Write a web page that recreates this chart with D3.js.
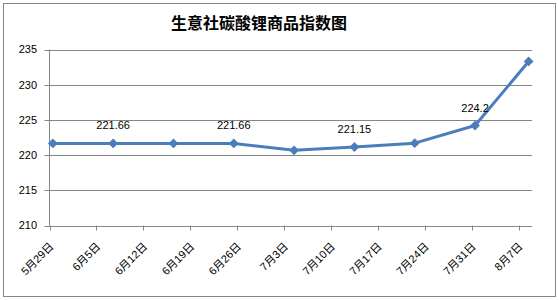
<!DOCTYPE html>
<html>
<head>
<meta charset="utf-8">
<script src="https://cdn.jsdelivr.net/npm/d3@7"></script>
<style>
  body { margin: 0; background: #fff; }
  text { font-family: "Liberation Sans", "Noto Sans CJK SC", sans-serif; }
</style>
</head>
<body>
<div id="chart"></div>
<script>
// data
var pointDates = ["2017-05-29", "2017-06-07", "2017-06-16", "2017-06-25", "2017-07-04",
                  "2017-07-13", "2017-07-22", "2017-07-31", "2017-08-08"];
var pointValues = [221.66, 221.66, 221.66, 221.66, 220.68, 221.15, 221.7, 224.2, 233.3];
var labeledPoints = [1, 3, 5, 7];

var tickDates = ["2017-05-29", "2017-06-05", "2017-06-12", "2017-06-19", "2017-06-26", "2017-07-03",
                 "2017-07-10", "2017-07-17", "2017-07-24", "2017-07-31", "2017-08-07"];
var tickLabels = ["5月29日", "6月5日", "6月12日", "6月19日", "6月26日", "7月3日",
                  "7月10日", "7月17日", "7月24日", "7月31日", "8月7日"];
var yTicks = [210, 215, 220, 225, 230, 235];

var W = 559, H = 300;
var parse = d3.timeParse("%Y-%m-%d");

var svg = d3.select("#chart")
    .append("svg")
    .attr("width", W)
    .attr("height", H);

// outer border
svg.append("rect")
    .attr("x", 3.5).attr("y", 3.5)
    .attr("width", 552).attr("height", 293)
    .attr("fill", "#fff")
    .attr("stroke", "#868686");

// title
svg.append("text")
    .attr("x", 259).attr("y", 29)
    .attr("text-anchor", "middle")
    .style("font-family", "'Noto Sans CJK SC', sans-serif")
    .style("font-size", "16px")
    .style("font-weight", "bold")
    .text("生意社碳酸锂商品指数图");

var plotLeft = 49.5, plotRight = 532, plotTop = 49.5, plotBottom = 225.5;

var x = d3.scaleTime()
    .domain([parse("2017-05-29"), parse("2017-08-09")])
    .range([plotLeft, plotRight]);

var y = d3.scaleLinear()
    .domain([210, 235])
    .range([plotBottom, plotTop]);

// gridlines
svg.append("g")
    .selectAll("line")
    .data(yTicks)
    .enter()
    .append("line")
    .attr("x1", plotLeft - 5).attr("x2", plotRight)
    .attr("y1", function(d) { return Math.round(y(d)) + 0.5; })
    .attr("y2", function(d) { return Math.round(y(d)) + 0.5; })
    .attr("stroke", "#868686");

// y axis line + labels
svg.append("line")
    .attr("x1", plotLeft).attr("x2", plotLeft)
    .attr("y1", plotTop).attr("y2", plotBottom)
    .attr("stroke", "#868686");

svg.append("g")
    .selectAll("text")
    .data(yTicks)
    .enter()
    .append("text")
    .attr("x", 37)
    .attr("y", function(d) { return y(d); })
    .attr("dy", "0.35em")
    .attr("text-anchor", "end")
    .style("font-size", "11px")
    .text(function(d) { return d; });

// x axis ticks
var xt = tickDates.map(parse);
svg.append("g")
    .selectAll("line")
    .data(xt)
    .enter()
    .append("line")
    .attr("x1", function(d) { return Math.round(x(d)) + 0.5; })
    .attr("x2", function(d) { return Math.round(x(d)) + 0.5; })
    .attr("y1", plotBottom).attr("y2", plotBottom + 5)
    .attr("stroke", "#868686");

svg.append("g")
    .selectAll("text")
    .data(xt)
    .enter()
    .append("text")
    .attr("transform", function(d) { return "translate(" + (x(d) + 2) + "," + (plotBottom + 19) + ")rotate(-45)"; })
    .attr("dy", "0.35em")
    .attr("text-anchor", "end")
    .style("font-size", "11px")
    .text(function(d, i) { return tickLabels[i]; });

// series
var pts = pointDates.map(function(d, i) {
    return { x: x(d3.timeHour.offset(parse(d), 12)), y: y(pointValues[i]), v: pointValues[i] };
});

svg.append("path")
    .datum(pts)
    .attr("fill", "none")
    .attr("stroke", "#4a7ebb")
    .attr("stroke-width", 3)
    .attr("stroke-linejoin", "round")
    .attr("d", d3.line().x(function(d) { return d.x; }).y(function(d) { return d.y; }));

svg.append("g")
    .selectAll("path")
    .data(pts)
    .enter()
    .append("path")
    .attr("d", d3.symbol().type(d3.symbolSquare).size(48))
    .attr("transform", function(d) { return "translate(" + d.x + "," + d.y + ")rotate(45)"; })
    .attr("fill", "#4a7ebb");

// value labels
svg.append("g")
    .selectAll("text")
    .data(labeledPoints)
    .enter()
    .append("text")
    .attr("x", function(i) { return pts[i].x; })
    .attr("y", function(i) { return pts[i].y - 14; })
    .attr("text-anchor", "middle")
    .style("font-size", "11px")
    .text(function(i) { return pts[i].v; });
</script>
</body>
</html>
